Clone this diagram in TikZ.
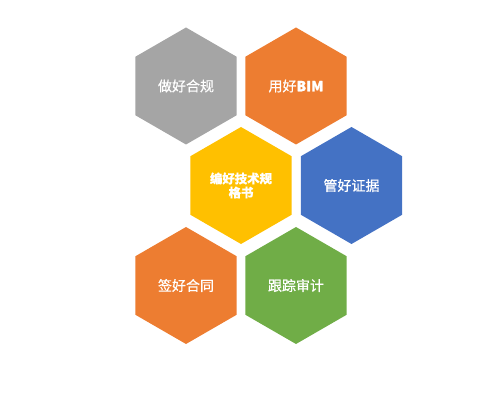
\documentclass[tikz,border=0pt]{standalone}
\usepackage{fontspec}
\setmainfont[FakeBold=0.6]{Noto Sans CJK SC}
\usetikzlibrary{shapes.geometric}
\definecolor{hexgray}{HTML}{A5A5A5}
\definecolor{hexorange}{HTML}{ED7D31}
\definecolor{hexyellow}{HTML}{FFC000}
\definecolor{hexblue}{HTML}{4472C4}
\definecolor{hexgreen}{HTML}{70AD47}
\begin{document}
\begin{tikzpicture}[x=1pt,y=-1pt,
    hexa/.style={regular polygon,regular polygon sides=6,shape border rotate=30,
        minimum size=117pt,inner sep=0pt,outer sep=0pt,text=white,
        font=\fontsize{14pt}{16pt}\selectfont,align=center}]
            \useasboundingbox (0,0) rectangle (500,403);

            \node[hexa,fill=hexgray] (compliance) at (186,86) {做好合规};
            \node[hexa,fill=hexorange] (bim) at (296,86) {用好\textbf{BIM}};

            \node[hexa,fill=hexyellow,font=\fontsize{12.4pt}{14pt}\selectfont\bfseries]
                (spec) at (241,185.5) {编好技术规\\格书};
            \node[hexa,fill=hexblue] (evidence) at (351.5,185.5) {管好证据};

            \node[hexa,fill=hexorange] (contract) at (186,285.5) {签好合同};
            \node[hexa,fill=hexgreen] (audit) at (296,285.5) {跟踪审计};
        \end{tikzpicture}
\end{document}
